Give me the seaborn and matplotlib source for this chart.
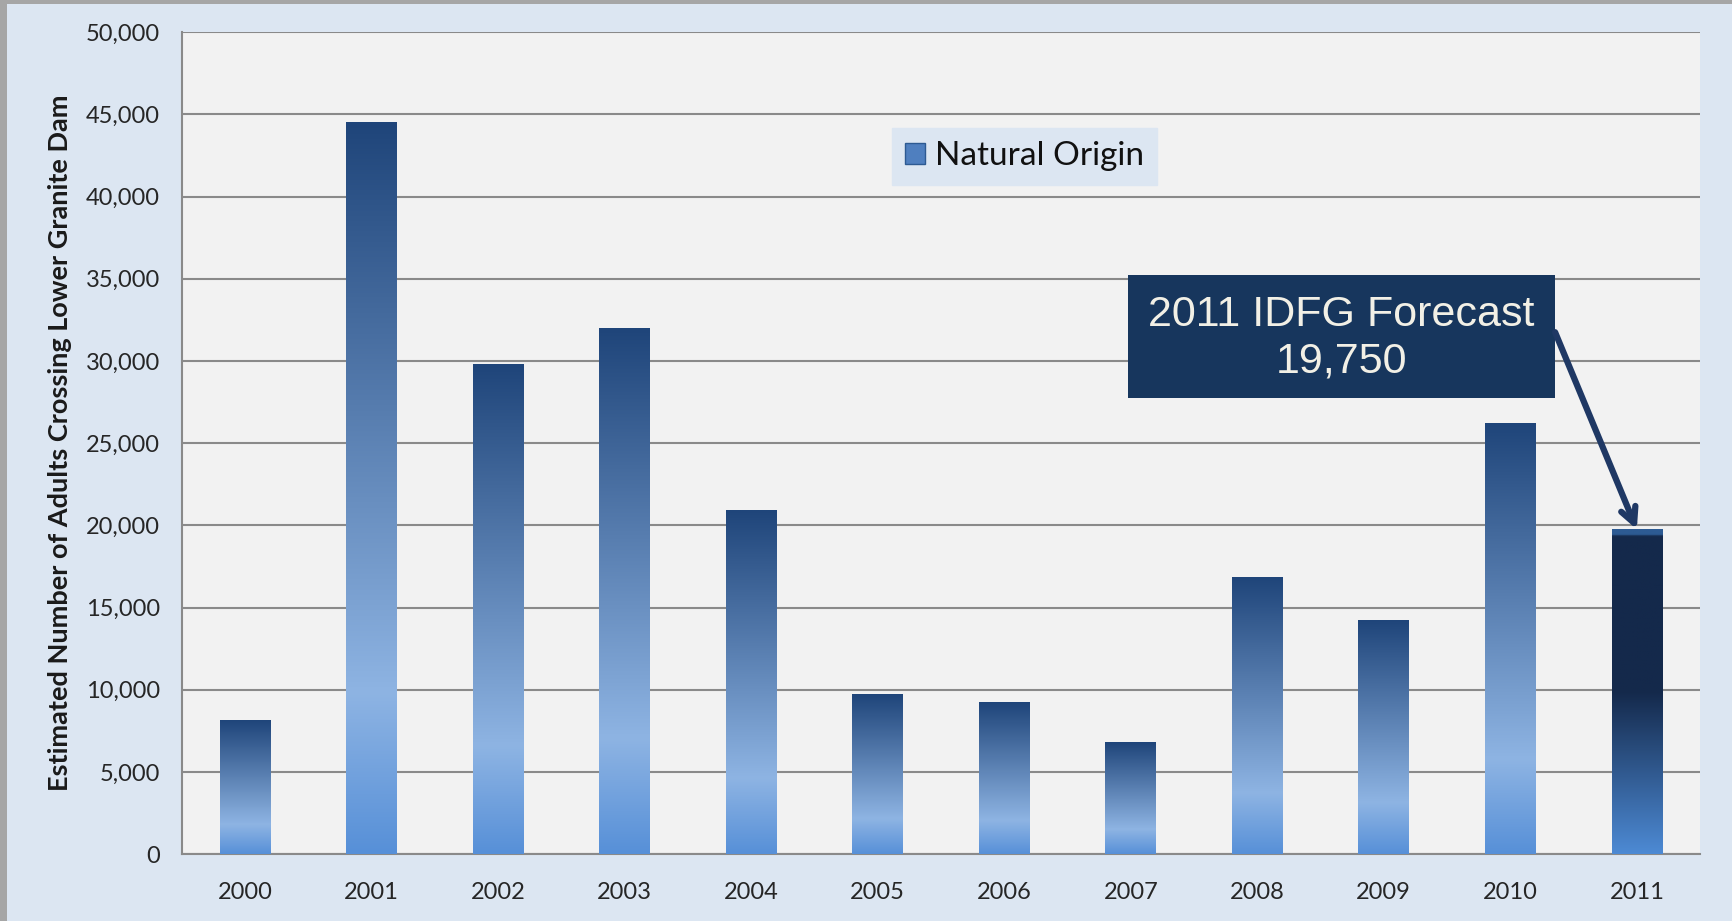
import numpy as np
import matplotlib
matplotlib.use("Agg")
import matplotlib.pyplot as plt
import seaborn as sns
from matplotlib.colors import LinearSegmentedColormap
from matplotlib.patches import Patch, Rectangle

years = ["2000", "2001", "2002", "2003", "2004", "2005",
         "2006", "2007", "2008", "2009", "2010", "2011"]
adults = [8100, 44500, 29800, 32000, 20900, 9700,
          9200, 6800, 16800, 14200, 26200, 19750]
forecast_year = "2011"
forecast_label = "2011 IDFG Forecast\n19,750"
y_ticks = [0, 5000, 10000, 15000, 20000, 25000, 30000, 35000, 40000, 45000, 50000]

sns.set_style("white")
plt.rcParams["font.family"] = ["Lato", "DejaVu Sans"]

bar_cmap = LinearSegmentedColormap.from_list(
    "bar", [(0.0, "#1f457a"), (0.78, "#8eb4e3"), (1.0, "#5790d8")])
fc_cmap = LinearSegmentedColormap.from_list(
    "fc", [(0.0, "#2d5b93"), (0.015, "#2d5b93"), (0.02, "#14294b"),
           (0.5, "#14294b"), (1.0, "#4d8ad4")])

fig = plt.figure(figsize=(17.33, 9.21), dpi=100, facecolor="#dce6f2")
ax = fig.add_axes([0.105, 0.0727, 0.876, 0.8923])
ax.set_facecolor("#f2f2f2")

sns.barplot(x=years, y=adults, width=0.4, color="#4f7fbf", ax=ax, zorder=3)

grad = np.linspace(0, 1, 256).reshape(-1, 1)
for patch, yr in zip(ax.patches, years):
    x0, w, h = patch.get_x(), patch.get_width(), patch.get_height()
    patch.set_facecolor("none")
    patch.set_edgecolor("none")
    cmap = fc_cmap if yr == forecast_year else bar_cmap
    ax.imshow(grad, cmap=cmap, extent=[x0, x0 + w, 0, h], aspect="auto",
              origin="upper", zorder=3)

ax.set_xlim(-0.5, len(years) - 0.5)
ax.set_ylim(0, 50000)
ax.set_yticks(y_ticks)
ax.set_yticklabels([f"{v:,}" for v in y_ticks])
ax.yaxis.grid(True, color="#8a8a8a", linewidth=1.5, zorder=0)
ax.set_axisbelow(True)

ax.set_xticks(range(len(years)))
ax.set_xticklabels(years)
ax.set_xticks(np.arange(-0.5, len(years)), minor=True)
ax.tick_params(axis="x", which="major", length=0, pad=20, labelsize=17, labelcolor="#262626")
ax.tick_params(axis="x", which="minor", length=10, width=1.5, color="#8a8a8a", direction="out")
ax.tick_params(axis="y", length=10, width=1.5, color="#8a8a8a", direction="out",
               labelsize=17, labelcolor="#262626", pad=6)

for s in ["top", "right"]:
    ax.spines[s].set_visible(False)
for s in ["left", "bottom"]:
    ax.spines[s].set_color("#8a8a8a")
    ax.spines[s].set_linewidth(1.5)

ax.set_xlabel("")
ax.set_ylabel("Estimated Number of Adults Crossing Lower Granite Dam",
              fontsize=19.5, fontweight="bold", color="#1a1a1a", labelpad=10)

leg = ax.legend(handles=[Patch(facecolor="#4f7fbf", edgecolor="#2d5a92", label="Natural Origin")],
                loc="center", bbox_to_anchor=(0.555, 0.849), fontsize=24,
                frameon=True, fancybox=False, facecolor="#dce6f2", edgecolor="#dce6f2",
                framealpha=1, handlelength=0.6, handleheight=0.6, handletextpad=0.3,
                borderpad=0.4)
for t in leg.get_texts():
    t.set_color("#111111")

# forecast callout
ax.add_patch(Rectangle((0.623, 0.5547), 0.2813, 0.1496, transform=ax.transAxes,
                       facecolor="#17365d", edgecolor="none", zorder=5))
ax.text(0.7635, 0.628, forecast_label, transform=ax.transAxes, ha="center", va="center",
        fontsize=31, color="#f2f0e6", family=["Liberation Sans", "DejaVu Sans"],
        linespacing=1.2, zorder=6)
ax.annotate("", xy=(years.index(forecast_year), adults[years.index(forecast_year)]),
            xycoords="data", xytext=(0.9045, 0.635), textcoords="axes fraction",
            arrowprops=dict(arrowstyle="->,head_length=1.1,head_width=0.55",
                            color="#1f3864", lw=4.5, shrinkA=0, shrinkB=0),
            zorder=6)

# outer frame
fig.patches.append(Rectangle((0, 0), 7 / 1733, 1, transform=fig.transFigure,
                             facecolor="#a6a6a6", edgecolor="none"))
fig.patches.append(Rectangle((0, 1 - 4 / 921), 1, 4 / 921, transform=fig.transFigure,
                             facecolor="#a6a6a6", edgecolor="none"))

fig.savefig("out.png", dpi=100, facecolor=fig.get_facecolor())
plt.close(fig)
